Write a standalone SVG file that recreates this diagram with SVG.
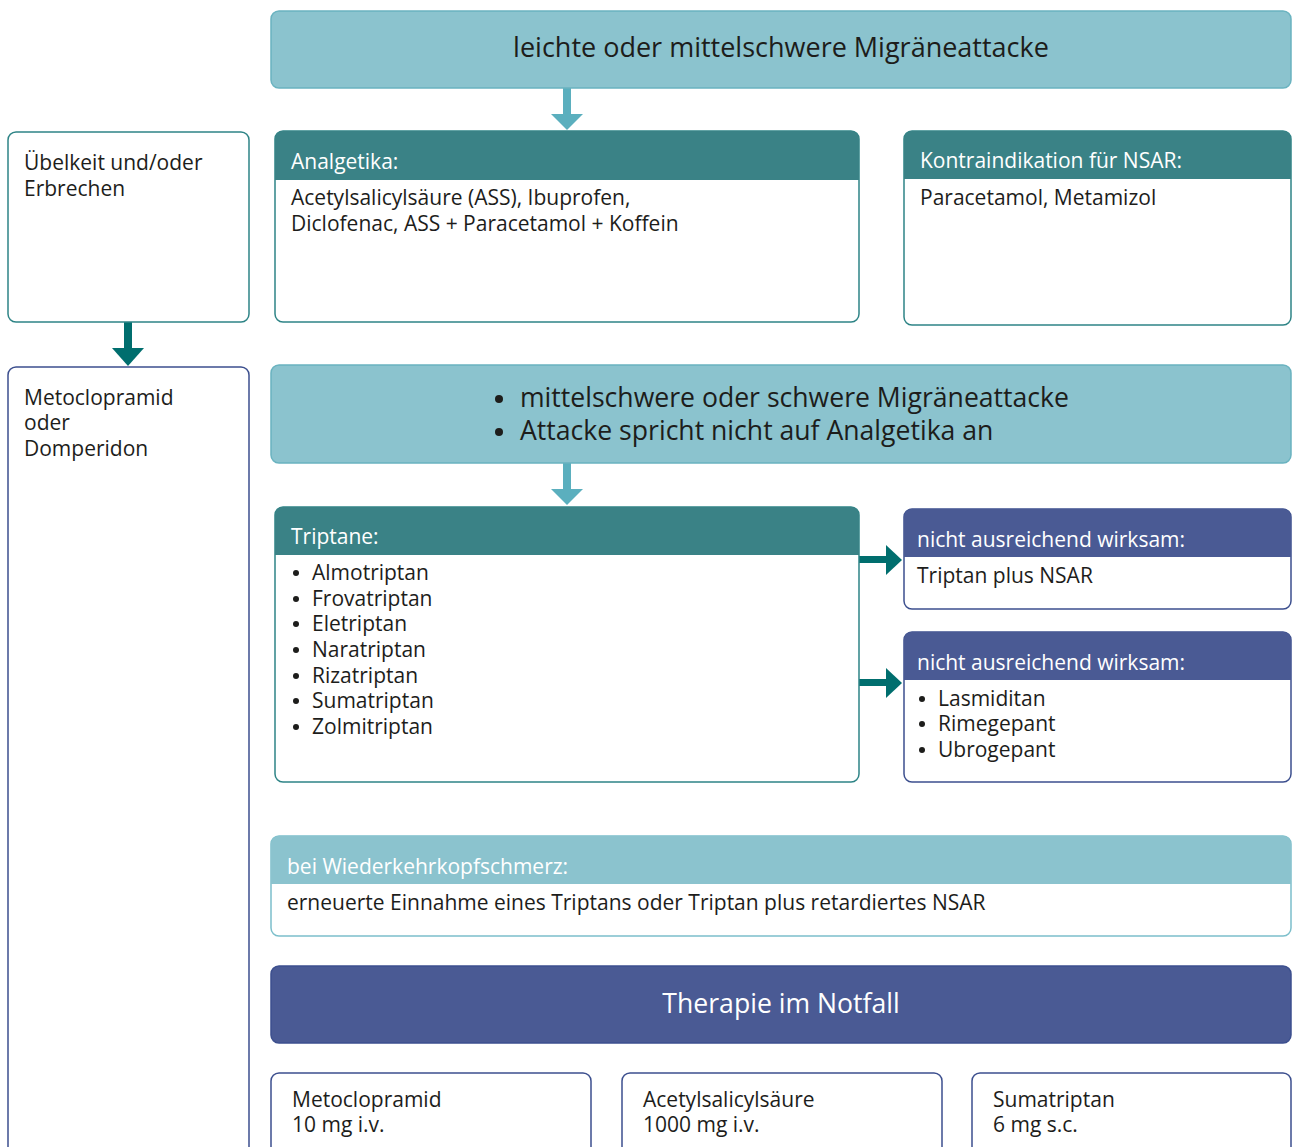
<svg xmlns="http://www.w3.org/2000/svg" width="1293" height="1147" viewBox="0 0 1293 1147">
<style>
text{font-family:"Open Sans","Liberation Sans",Arial,sans-serif;fill:#1d1d1b;font-size:21px}
.w{fill:#fff}
.big{font-size:26.6px}
.top{font-size:27px}
.lt{fill:#8BC3CE;stroke:#6AB3C0;stroke-width:1.5}
.tb{fill:#fff;stroke:#2E8486;stroke-width:1.5}
.nb{fill:#fff;stroke:#3C4F8E;stroke-width:1.5}
.lb{fill:#fff;stroke:#7CBFCB;stroke-width:1.5}
.th{fill:#3A8286}
.nh{fill:#4A5A94}
.mid{text-anchor:middle}
</style>
<defs>
<clipPath id="cA"><rect x="275" y="131" width="584" height="191" rx="8"/></clipPath>
<clipPath id="cK"><rect x="904" y="131" width="387" height="194" rx="8"/></clipPath>
<clipPath id="cT"><rect x="275" y="507" width="584" height="275" rx="8"/></clipPath>
<clipPath id="cN1"><rect x="904" y="509" width="387" height="100" rx="8"/></clipPath>
<clipPath id="cN2"><rect x="904" y="632" width="387" height="150" rx="8"/></clipPath>
<clipPath id="cW"><rect x="271" y="836" width="1020" height="100" rx="8"/></clipPath>
</defs>

<g id="connectors">
<g fill="#5BAFBE">
<rect x="563" y="88" width="8" height="28"/><polygon points="551,114 583,114 567,130"/>
<rect x="563" y="463" width="8" height="28"/><polygon points="551,489 583,489 567,505"/>
</g>
<g fill="#006E6E">
<rect x="124" y="322" width="8" height="28"/><polygon points="112,348 144,348 128,366"/>
<rect x="859" y="556" width="28" height="7"/><polygon points="886,545 886,575 902,560"/>
<rect x="859" y="679" width="28" height="7"/><polygon points="886,668 886,698 902,683"/>
</g>
</g>

<g id="n-top">
<rect class="lt" x="271" y="11" width="1020" height="77" rx="8"/>
<text class="top mid" x="781" y="57">leichte oder mittelschwere Migräneattacke</text>
</g>

<g id="n-uebelkeit">
<rect class="tb" x="8" y="132" width="241" height="190" rx="8"/>
<text x="24" y="170">Übelkeit und/oder</text>
<text x="24" y="196">Erbrechen</text>
</g>

<g id="n-analgetika">
<rect class="tb" x="275" y="131" width="584" height="191" rx="8"/>
<rect class="th" x="275" y="131" width="584" height="49" clip-path="url(#cA)"/>
<text class="w" x="291" y="169">Analgetika:</text>
<text x="291" y="205">Acetylsalicylsäure (ASS), Ibuprofen,</text>
<text x="291" y="231">Diclofenac, ASS + Paracetamol + Koffein</text>
</g>

<g id="n-kontra">
<rect class="tb" x="904" y="131" width="387" height="194" rx="8"/>
<rect class="th" x="904" y="131" width="387" height="48" clip-path="url(#cK)"/>
<text class="w" x="920" y="168">Kontraindikation für NSAR:</text>
<text x="920" y="205">Paracetamol, Metamizol</text>
</g>

<g id="n-meto-left">
<rect class="nb" x="8" y="367" width="241" height="810" rx="8"/>
<text x="24" y="405">Metoclopramid</text>
<text x="24" y="430">oder</text>
<text x="24" y="456">Domperidon</text>
</g>

<g id="n-mid">
<rect class="lt" x="271" y="365" width="1020" height="98" rx="8"/>
<circle cx="499" cy="399" r="4" fill="#1d1d1b"/>
<circle cx="499" cy="432" r="4" fill="#1d1d1b"/>
<text class="big" x="520" y="407">mittelschwere oder schwere Migräneattacke</text>
<text class="big" x="520" y="440">Attacke spricht nicht auf Analgetika an</text>
</g>

<g id="n-triptane">
<rect class="tb" x="275" y="507" width="584" height="275" rx="8"/>
<rect class="th" x="275" y="507" width="584" height="48" clip-path="url(#cT)"/>
<text class="w" x="291" y="544">Triptane:</text>
<g fill="#1d1d1b">
<circle cx="296" cy="573" r="3"/><circle cx="296" cy="599" r="3"/><circle cx="296" cy="624" r="3"/><circle cx="296" cy="650" r="3"/><circle cx="296" cy="676" r="3"/><circle cx="296" cy="701" r="3"/><circle cx="296" cy="727" r="3"/>
</g>
<text x="312" y="580">Almotriptan</text>
<text x="312" y="606">Frovatriptan</text>
<text x="312" y="631">Eletriptan</text>
<text x="312" y="657">Naratriptan</text>
<text x="312" y="683">Rizatriptan</text>
<text x="312" y="708">Sumatriptan</text>
<text x="312" y="734">Zolmitriptan</text>
</g>

<g id="n-nicht1">
<rect class="nb" x="904" y="509" width="387" height="100" rx="8"/>
<rect class="nh" x="904" y="509" width="387" height="48" clip-path="url(#cN1)"/>
<text class="w" x="917" y="547">nicht ausreichend wirksam:</text>
<text x="917" y="583">Triptan plus NSAR</text>
</g>

<g id="n-nicht2">
<rect class="nb" x="904" y="632" width="387" height="150" rx="8"/>
<rect class="nh" x="904" y="632" width="387" height="48" clip-path="url(#cN2)"/>
<text class="w" x="917" y="670">nicht ausreichend wirksam:</text>
<g fill="#1d1d1b"><circle cx="922" cy="699" r="3"/><circle cx="922" cy="724" r="3"/><circle cx="922" cy="750" r="3"/></g>
<text x="938" y="706">Lasmiditan</text>
<text x="938" y="731">Rimegepant</text>
<text x="938" y="757">Ubrogepant</text>
</g>

<g id="n-wiederkehr">
<rect class="lb" x="271" y="836" width="1020" height="100" rx="8"/>
<rect fill="#8BC3CE" x="271" y="836" width="1020" height="48" clip-path="url(#cW)"/>
<text class="w" x="287" y="874">bei Wiederkehrkopfschmerz:</text>
<text x="287" y="910">erneuerte Einnahme eines Triptans oder Triptan plus retardiertes NSAR</text>
</g>

<g id="n-notfall">
<rect fill="#4A5A94" stroke="#3C4F8E" stroke-width="1.5" x="271" y="966" width="1020" height="77" rx="8"/>
<text class="w big mid" x="781" y="1013">Therapie im Notfall</text>
</g>

<g id="n-e1">
<rect class="nb" x="271" y="1073" width="320" height="100" rx="8"/>
<text x="292" y="1107">Metoclopramid</text>
<text x="292" y="1132">10 mg i.v.</text>
</g>
<g id="n-e2">
<rect class="nb" x="622" y="1073" width="320" height="100" rx="8"/>
<text x="643" y="1107">Acetylsalicylsäure</text>
<text x="643" y="1132">1000 mg i.v.</text>
</g>
<g id="n-e3">
<rect class="nb" x="972" y="1073" width="319" height="100" rx="8"/>
<text x="993" y="1107">Sumatriptan</text>
<text x="993" y="1132">6 mg s.c.</text>
</g>
</svg>
